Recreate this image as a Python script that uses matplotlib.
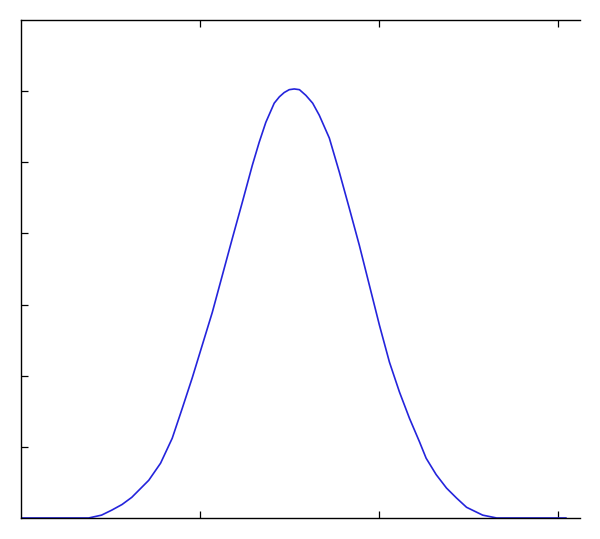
import numpy as np
import matplotlib
matplotlib.use("Agg")
import matplotlib.pyplot as plt

# points
x = [0.0, 0.378, 0.450, 0.507, 0.565, 0.619, 0.714, 0.780, 0.845, 0.901, 0.957,
     1.013, 1.069, 1.125, 1.181, 1.237, 1.293, 1.331, 1.368, 1.415, 1.444, 1.471,
     1.499, 1.527, 1.556, 1.592, 1.630, 1.667, 1.723, 1.779, 1.835, 1.891, 1.947,
     2.003, 2.059, 2.115, 2.171, 2.227, 2.264, 2.320, 2.378, 2.434, 2.490, 2.580,
     2.658, 3.045]
y = [0.0, 0.0, 0.004, 0.011, 0.019, 0.029, 0.053, 0.077, 0.112, 0.154, 0.197,
     0.243, 0.289, 0.341, 0.393, 0.444, 0.496, 0.528, 0.556, 0.583, 0.592, 0.598,
     0.602, 0.603, 0.602, 0.594, 0.583, 0.566, 0.534, 0.486, 0.435, 0.383, 0.327,
     0.271, 0.219, 0.177, 0.140, 0.107, 0.084, 0.061, 0.042, 0.028, 0.015, 0.004,
     0.0, 0.0]

xticks = [1, 2, 3]
yticks = [0.1, 0.2, 0.3, 0.4, 0.5, 0.6]

fig = plt.figure(figsize=(6, 5.39), dpi=100)
ax = fig.add_axes([0.035, 0.039, 0.932, 0.924])
ax.plot(x, y, color="#2424dc", lw=1.2)
ax.set_xlim(0, 3.125)
ax.set_ylim(0, 0.7)
ax.set_xticks(xticks)
ax.set_yticks(yticks)
ax.tick_params(direction="in", length=5, width=0.9, labelleft=False, labelbottom=False,
               top=True, right=False)
ax.spines["right"].set_visible(False)
for s in ["left", "top", "bottom"]:
    ax.spines[s].set_linewidth(1.0)
fig.savefig("out.png", dpi=100)
